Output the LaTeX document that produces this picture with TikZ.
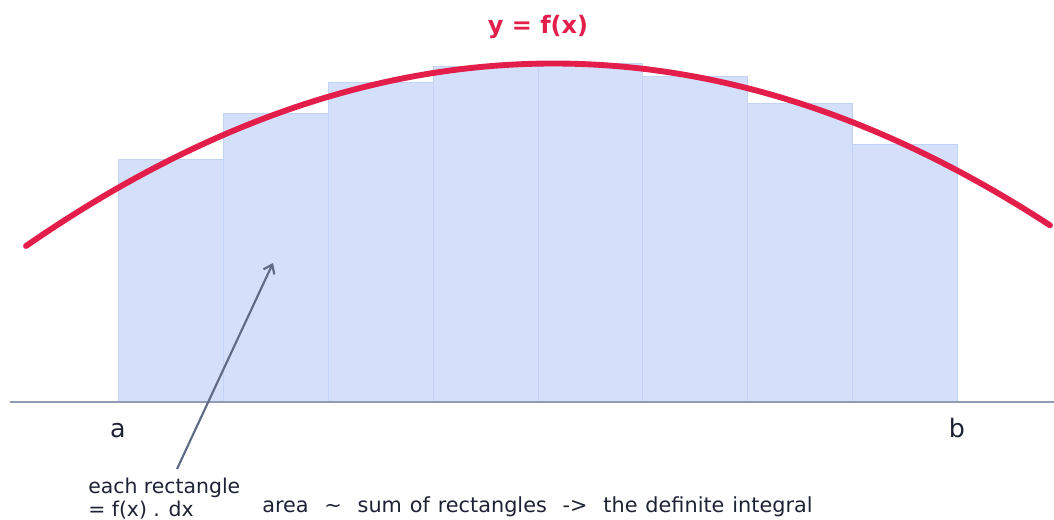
\documentclass[tikz,border=0pt]{standalone}
\usepackage{fontspec}
\setmainfont{DejaVu Sans}
\usetikzlibrary{arrows.meta}
\definecolor{rectfill}{HTML}{D4DFF9}
\definecolor{rectedge}{HTML}{C3D3F5}
\definecolor{curvecol}{HTML}{E31E4B}
\definecolor{axiscol}{HTML}{8F9BB3}
\definecolor{arrowcol}{HTML}{5F6B85}
\definecolor{textcol}{HTML}{1E2235}
\newcommand{\gapsp}{\hspace{0.38em}}
\tikzset{
  bar/.style={fill=rectfill, draw=rectedge, line width=0.6pt},
  curve/.style={draw=curvecol, line width=4.4pt, line cap=round},
  axisline/.style={draw=axiscol, line width=1.9pt},
  pointer/.style={draw=arrowcol, line width=1.6pt, -{Straight Barb[length=6pt,width=9pt,line width=1.6pt]}},
  small/.style={text=textcol, font=\fontsize{15.3}{18}\selectfont, inner sep=0pt},
  wide/.style={text=textcol, font=\fontsize{15.6}{18}\selectfont, inner sep=0pt},
  endlabel/.style={text=textcol, font=\fontsize{19}{22}\selectfont, inner sep=0pt, anchor=base},
  title/.style={text=curvecol, font=\bfseries\fontsize{18}{21}\selectfont, inner sep=0pt, anchor=base}
}
\begin{document}
\begin{tikzpicture}[x=0.75pt,y=-0.75pt]
\useasboundingbox (0,0) rectangle (1054,519);
% rectangles (midpoint rule)
\foreach \l/\r/\t in {118/223/159, 223/328/113, 328/433/82, 433/538/66, 538/642/63.5, 642/747/76, 747/852/103, 852/957/144}
  \filldraw[bar] (\l,402) rectangle (\r,\t);
% axis
\draw[axisline] (10,402) -- (1054,402);
% curve
\draw[curve] plot[domain=26:1050, samples=120, smooth] (\x, {63.5+0.000655*(\x-553.4)*(\x-553.4)});
% title
\node[title] (ttl) at (538,33) {y = f(x)};
% end labels
\node[endlabel] (la) at (118,437) {a};
\node[endlabel] (lb) at (957,437) {b};
% annotation
\node[small, anchor=base west] (each1) at (88,493) {each rectangle};
\node[small, anchor=base west] (each2) at (88,516) {= f(x) . dx};
\coordinate (arrstart) at (177,469);
\coordinate (arrtip) at (273,263);
\draw[pointer] (arrstart) -- (arrtip);
\node[wide, anchor=base west] (summary) at (262,512) {area\gapsp\gapsp\textasciitilde\gapsp\gapsp sum\gapsp of\gapsp rectangles\gapsp\gapsp ->\gapsp\gapsp the\gapsp definite\gapsp integral};
\end{tikzpicture}
\end{document}
